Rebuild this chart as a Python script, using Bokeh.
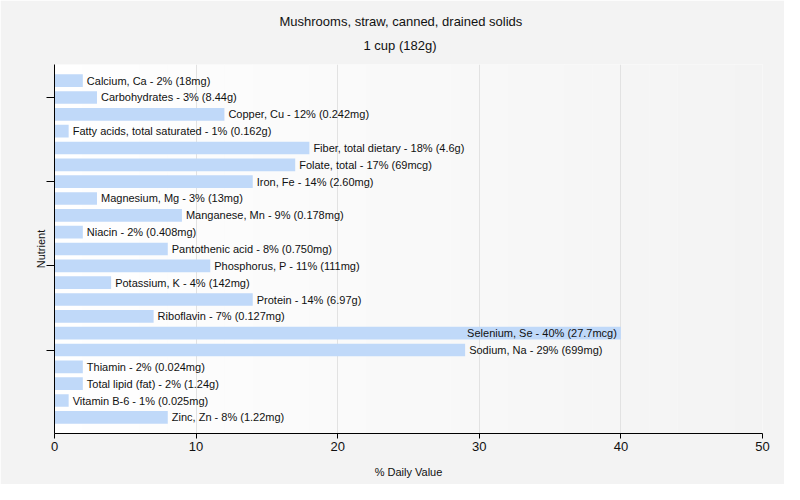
from bokeh.plotting import figure
from bokeh.models import Range1d, FixedTicker, Title, ColumnDataSource, BoxAnnotation
from bokeh.core.properties import value
from bokeh.embed import file_html
from bokeh.resources import INLINE

nutrients = ["Calcium, Ca", "Carbohydrates", "Copper, Cu", "Fatty acids, total saturated",
             "Fiber, total dietary", "Folate, total", "Iron, Fe", "Magnesium, Mg",
             "Manganese, Mn", "Niacin", "Pantothenic acid", "Phosphorus, P",
             "Potassium, K", "Protein", "Riboflavin", "Selenium, Se", "Sodium, Na",
             "Thiamin", "Total lipid (fat)", "Vitamin B-6", "Zinc, Zn"]
daily_values = [2, 3, 12, 1, 18, 17, 14, 3, 9, 2, 8, 11, 4, 14, 7, 40, 29, 2, 2, 1, 8]
amounts = ["18mg", "8.44g", "0.242mg", "0.162g", "4.6g", "69mcg", "2.60mg", "13mg",
           "0.178mg", "0.408mg", "0.750mg", "111mg", "142mg", "6.97g", "0.127mg",
           "27.7mcg", "699mg", "0.024mg", "1.24g", "0.025mg", "1.22mg"]
x_ticks = [0, 10, 20, 30, 40, 50]
y_ticks = [1, 6, 11, 16]
title_lines = ["Mushrooms, straw, canned, drained solids", "1 cup (182g)"]

FONT = "Liberation Sans"
idx = list(range(len(nutrients)))
labels = [f"{n} - {v}% ({a})" for n, v, a in zip(nutrients, daily_values, amounts)]
inside = [v >= 35 for v in daily_values]
src = ColumnDataSource(dict(
    y=idx, v=daily_values, text=labels,
    align=["right" if i else "left" for i in inside],
    off=[-4 if i else 4 for i in inside],
))

p = figure(width=784, height=484, output_backend="svg", toolbar_location=None,
           x_range=Range1d(0, 50), y_range=Range1d(20.96, -0.96),
           min_border_left=54, min_border_right=22, min_border_top=64, min_border_bottom=51)
p.border_fill_color = "#f3f3f3"
p.background_fill_color = "#f9f9f9"
p.outline_line_color = None

# subtle left-to-right background gradient of the plot area (styling only)
n_strips = 25
strips = []
for k in range(n_strips):
    g = int(round(255 - 12 * (k + 0.5) / n_strips))
    strips.append(BoxAnnotation(left=50 * k / n_strips, right=50 * (k + 1) / n_strips,
                                fill_color="#%02x%02x%02x" % (g, g, g), fill_alpha=1.0,
                                line_color=None, level="underlay"))
p.center = strips + list(p.center)

p.hbar(y="y", left=0, right="v", height=0.75, source=src, fill_color="#c0d9f9", line_color=None)
p.text(x="v", y="y", text="text", source=src, text_align="align", x_offset="off",
       text_baseline="middle", text_font=value(FONT), text_font_size="11px", text_color="#111111")

p.xaxis.ticker = FixedTicker(ticks=x_ticks)
p.xaxis.axis_label = "% Daily Value"
p.yaxis.axis_label = "Nutrient"
p.yaxis.ticker = FixedTicker(ticks=y_ticks)
p.yaxis.major_label_overrides = {t: "" for t in y_ticks}
p.yaxis.major_label_standoff = 0
p.yaxis.axis_label_standoff = 0
for ax in (p.xaxis, p.yaxis):
    ax.axis_label_text_font = FONT
    ax.axis_label_text_font_size = "11px"
    ax.axis_label_text_font_style = "normal"
    ax.axis_label_text_color = "#111111"
    ax.major_label_text_font = FONT
    ax.major_label_text_font_size = "13px"
    ax.major_label_text_color = "#111111"
    ax.axis_line_color = "black"
    ax.major_tick_line_color = "black"
    ax.major_tick_out = 8
    ax.major_tick_in = 0
    ax.minor_tick_line_color = None
p.xaxis.major_tick_out = 5
p.xaxis.major_label_standoff = 3
p.xaxis.axis_label_standoff = 12

p.xgrid.grid_line_color = "#e2e2e2"
p.xgrid.ticker = FixedTicker(ticks=x_ticks)
p.ygrid.grid_line_color = None

for line, so, off in zip(reversed(title_lines), [24, -10], [309, 225]):
    p.add_layout(Title(text=line, align="left", offset=off, text_font=FONT, text_font_size="13px",
                       text_font_style="normal", text_color="#111111", standoff=so), "above")

open("out.html", "w").write(file_html(p, INLINE))
